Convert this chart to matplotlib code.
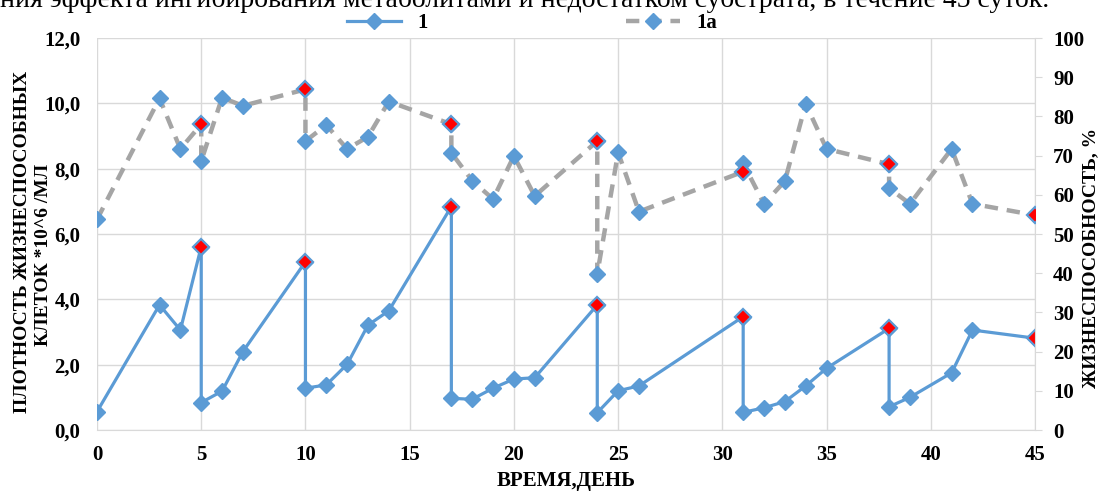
import matplotlib
matplotlib.use('Agg')
import matplotlib.pyplot as plt

# data
days = [0, 3, 4, 5, 5, 6, 7, 10, 10, 11, 12, 13, 14, 17, 17, 18, 19, 20, 21,
        24, 24, 25, 26, 31, 31, 32, 33, 34, 35, 38, 38, 39, 41, 42, 45]
density_1 = [0.56, 3.83, 3.06, 5.61, 0.84, 1.19, 2.40, 5.15, 1.28, 1.38, 2.01,
             3.21, 3.65, 6.84, 0.97, 0.94, 1.28, 1.56, 1.60, 3.83, 0.53, 1.20,
             1.35, 3.47, 0.54, 0.68, 0.87, 1.35, 1.89, 3.11, 0.71, 1.00, 1.75,
             3.06, 2.81]
viability_1a = [53.7, 84.6, 71.7, 78.0, 68.6, 84.8, 82.7, 86.9, 73.7, 77.8, 71.7,
                74.8, 83.8, 78.0, 70.7, 63.6, 58.9, 69.9, 59.7, 73.7, 39.8, 70.8,
                55.7, 65.9, 68.0, 57.7, 63.5, 83.2, 71.7, 67.8, 61.7, 57.7, 71.7,
                57.7, 54.8]
# points before medium change (shown in red)
red_idx = [3, 7, 13, 19, 23, 29, 34]

x_ticks = [0, 5, 10, 15, 20, 25, 30, 35, 40, 45]
left_ticks = [0, 2, 4, 6, 8, 10, 12]
left_labels = ['0,0', '2,0', '4,0', '6,0', '8,0', '10,0', '12,0']
right_ticks = [0, 10, 20, 30, 40, 50, 60, 70, 80, 90, 100]

blue = '#5B9BD5'
gray = '#A5A5A5'
grid = '#D9D9D9'
serif = 'Liberation Serif'
fs = 15

plt.rcParams['font.family'] = serif

fig = plt.figure(figsize=(11.01, 4.91), dpi=100)
ax = fig.add_axes([97 / 1101, 1 - 430 / 491, (1035 - 97) / 1101, (430 - 38) / 491])
ax2 = ax.twinx()

l1, = ax.plot(days, density_1, color=blue, lw=2.3, marker='D', ms=8.5,
              mfc=blue, mec=blue, label='1', zorder=3)
ax.plot([days[i] for i in red_idx], [density_1[i] for i in red_idx], ls='none',
        marker='D', ms=8.5, mfc='red', mec=blue, mew=1.6, zorder=4)

l2, = ax2.plot(days, viability_1a, color=gray, lw=3.2, ls=(0, (3.0, 2.0)),
               marker='D', ms=8.5, mfc=blue, mec=blue, label='1a', zorder=3)
ax2.plot([days[i] for i in red_idx], [viability_1a[i] for i in red_idx], ls='none',
         marker='D', ms=8.5, mfc='red', mec=blue, mew=1.6, zorder=4)

ax.set_xlim(0, 45)
ax.set_ylim(0, 12)
ax2.set_ylim(0, 100)

ax.set_xticks(x_ticks)
ax.set_xticklabels([str(t) for t in x_ticks], fontsize=fs, fontweight='bold')
ax.set_yticks(left_ticks)
ax.set_yticklabels(left_labels, fontsize=fs, fontweight='bold')
ax2.set_yticks(right_ticks)
ax2.set_yticklabels([str(t) for t in right_ticks], fontsize=fs, fontweight='bold')

ax.grid(True, color=grid, lw=1)
ax.set_axisbelow(True)
for s in ['top', 'left', 'right']:
    ax.spines[s].set_visible(False)
ax.spines['bottom'].set_color(grid)
for s in ['top', 'left', 'bottom']:
    ax2.spines[s].set_visible(False)
ax2.spines['right'].set_color(grid)

ax.tick_params(axis='x', length=0, pad=11)
ax.tick_params(axis='y', length=0, pad=12)
ax2.tick_params(axis='y', length=5, color=grid, pad=8)

ax.set_xlabel('ВРЕМЯ,ДЕНЬ', fontsize=fs, fontweight='bold', labelpad=4)

# axis titles placed by hand, as in the reference
fig.text(23 / 1101, 1 - 242 / 491, 'ПЛОТНОСТЬ ЖИЗНЕСПОСОБНЫХ', rotation=90,
         ha='center', va='center', fontsize=14, fontweight='bold')
fig.text(44 / 1101, 1 - 255 / 491, 'КЛЕТОК *10^6 /МЛ', rotation=90,
         ha='center', va='center', fontsize=14, fontweight='bold')
fig.text(1091 / 1101, 1 - 258 / 491, 'ЖИЗНЕСПОСОБНОСТЬ, %', rotation=90,
         ha='center', va='center', fontsize=14, fontweight='bold')

fig.legend(handles=[l1, l2], loc='center', bbox_to_anchor=(532 / 1101, 1 - 23 / 491),
           ncol=2, frameon=False, handlelength=2.6, columnspacing=9.5,
           prop={'family': serif, 'weight': 'bold', 'size': fs})

# cut-off caption line above the chart
fig.text(0.0, 1 - 7 / 491, 'ния эффекта ингибирования метаболитами и недостатком '
         'субстрата, в течение 45 суток.', fontsize=20, va='baseline', ha='left')

fig.savefig('out.png', dpi=100)
